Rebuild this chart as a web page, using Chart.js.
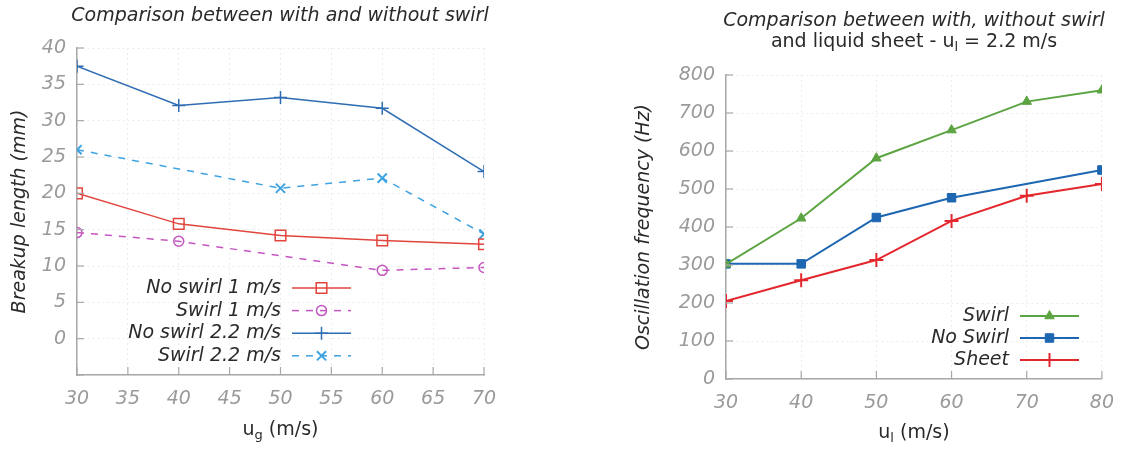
<!DOCTYPE html>
<html>
<head>
<meta charset="utf-8">
<script src="https://cdn.jsdelivr.net/npm/chart.js@4/dist/chart.umd.min.js"></script>
<style>
  html, body { margin: 0; padding: 0; background: #fff; }
  #wrap { position: relative; width: 1127px; height: 450px; }
  #leftBox { position: absolute; left: 0; top: 0; width: 560px; height: 450px; }
  #rightBox { position: absolute; left: 560px; top: 0; width: 567px; height: 450px; }
</style>
</head>
<body>
<div id="wrap">
  <div id="leftBox"><canvas id="leftChart" width="560" height="450"></canvas></div>
  <div id="rightBox"><canvas id="rightChart" width="567" height="450"></canvas></div>
</div>
<script>
// --- Data: left chart (breakup length) ---
const gasSpeeds = [30, 40, 50, 60, 70];
const noSwirl1 = [20.0, 15.8, 14.2, 13.5, 13.0];
const swirl1 = [14.6, 13.4, null, 9.4, 9.8];
const noSwirl22 = [37.5, 32.1, 33.2, 31.7, 23.0];
const swirl22 = [26.0, null, 20.7, 22.1, 14.4];

// --- Data: right chart (oscillation frequency) ---
const liquidSpeeds = [30, 40, 50, 60, 70, 80];
const swirlFreq = [302, 423, 581, 655, 730, 760];
const noSwirlFreq = [303, 303, 425, 477, null, 550];
const sheetFreq = [205, 260, 313, 416, 482, 513];

const FONT = '"DejaVu Sans", sans-serif';
const FS = 19; // font size used for nearly all text
const tickGray = '#9a9a9a';
const axisGray = '#a8a8a8';
const textDark = '#2a2a2a';

function toPoints(xs, ys) {
    return xs.map((x, i) => ({ x: x, y: ys[i] }));
}

// draw base + subscript + rest, centred at cx
function drawSubText(ctx, base, sub, rest, cx, cy, size, italic) {
    const st = italic ? 'italic ' : '';
    ctx.save();
    ctx.fillStyle = textDark;
    ctx.textBaseline = 'middle';
    ctx.font = st + size + 'px ' + FONT;
    const wBase = ctx.measureText(base).width;
    const wRest = ctx.measureText(rest).width;
    ctx.font = st + Math.round(size * 0.7) + 'px ' + FONT;
    const wSub = ctx.measureText(sub).width;
    let x = cx - (wBase + wSub + wRest) / 2;
    ctx.textAlign = 'left';
    ctx.font = st + size + 'px ' + FONT;
    ctx.fillText(base, x, cy);
    x += wBase;
    ctx.font = st + Math.round(size * 0.7) + 'px ' + FONT;
    ctx.fillText(sub, x, cy + size * 0.3);
    x += wSub;
    ctx.font = st + size + 'px ' + FONT;
    ctx.fillText(rest, x, cy);
    ctx.restore();
}

// plugin: inward tick marks, titles, custom legend
const decorPlugin = {
    id: 'decor',
    afterDraw(chart, args, opts) {
        const ctx = chart.ctx;
        const area = chart.chartArea;
        const xs = chart.scales.x;
        const ys = chart.scales.y;

        // inward ticks
        ctx.save();
        ctx.strokeStyle = axisGray;
        ctx.lineWidth = 1.2;
        ys.ticks.forEach((t, i) => {
            const py = ys.getPixelForTick(i);
            ctx.beginPath();
            ctx.moveTo(area.left, py);
            ctx.lineTo(area.left + 7, py);
            ctx.stroke();
        });
        xs.ticks.forEach((t, i) => {
            const px = xs.getPixelForTick(i);
            ctx.beginPath();
            ctx.moveTo(px, area.bottom);
            ctx.lineTo(px, area.bottom - 8);
            ctx.stroke();
        });
        ctx.restore();

        // titles
        ctx.save();
        ctx.fillStyle = textDark;
        ctx.textAlign = 'center';
        ctx.textBaseline = 'middle';
        opts.titleLines.forEach(line => {
            ctx.font = (line.italic ? 'italic ' : '') + FS + 'px ' + FONT;
            if (line.sub) {
                drawSubText(ctx, line.text, line.sub, line.rest, line.x, line.y, FS, line.italic);
            } else {
                ctx.fillText(line.text, line.x, line.y);
            }
        });

        // y axis title
        ctx.save();
        ctx.translate(opts.yTitleX, (area.top + area.bottom) / 2);
        ctx.rotate(-Math.PI / 2);
        ctx.font = 'italic ' + FS + 'px ' + FONT;
        ctx.fillText(opts.yTitle, 0, 0);
        ctx.restore();

        // x axis title
        drawSubText(ctx, 'u', opts.xSub, ' (m/s)', (area.left + area.right) / 2, opts.xTitleY, FS, false);
        ctx.restore();

        // legend
        const lg = opts.legend;
        chart.data.datasets.forEach((ds, i) => {
            const y = lg.top + i * lg.rowH;
            ctx.save();
            ctx.fillStyle = textDark;
            ctx.font = 'italic ' + FS + 'px ' + FONT;
            ctx.textAlign = 'right';
            ctx.textBaseline = 'middle';
            ctx.fillText(ds.label, lg.textRight, y);
            ctx.strokeStyle = ds.borderColor;
            ctx.lineWidth = ds.borderWidth;
            ctx.setLineDash(ds.borderDash || []);
            ctx.beginPath();
            ctx.moveTo(lg.lineLeft, y);
            ctx.lineTo(lg.lineLeft + lg.lineW, y);
            ctx.stroke();
            ctx.setLineDash([]);
            ctx.lineWidth = ds.pointBorderWidth || 1.5;
            ctx.fillStyle = ds.pointBackgroundColor;
            Chart.helpers.drawPoint(ctx, {
                pointStyle: ds.pointStyle,
                radius: ds.pointRadius,
                rotation: 0,
                borderWidth: ds.pointBorderWidth || 1.5
            }, lg.lineLeft + lg.lineW / 2, y);
            ctx.restore();
        });
    }
};

function axisOpts(min, max, step, hideBelow) {
    return {
        type: 'linear',
        min: min,
        max: max,
        ticks: {
            stepSize: step,
            color: tickGray,
            font: { family: FONT, size: FS, style: 'italic' },
            padding: 11,
            callback: function(v) { return (hideBelow !== undefined && v < hideBelow) ? '' : v; }
        },
        grid: { color: '#ececec', lineWidth: 1, drawTicks: false },
        border: { display: true, color: axisGray, width: 1.5, dash: [2, 3] }
    };
}

// --- Left chart ---
const leftX = axisOpts(30, 70, 5);
leftX.afterFit = s => { s.height = 75; };
leftX.ticks.padding = 13;
const leftY = axisOpts(-5, 40, 5, 0);
leftY.afterFit = s => { s.width = 77; };

new Chart(document.getElementById('leftChart').getContext('2d'), {
    type: 'line',
    data: {
        datasets: [
            {
                label: 'No swirl 1 m/s',
                data: toPoints(gasSpeeds, noSwirl1),
                borderColor: '#e2453d', borderWidth: 1.5,
                pointStyle: 'rect', pointRadius: 7.5, pointBorderWidth: 1.5,
                pointBackgroundColor: 'rgba(0,0,0,0)', pointBorderColor: '#e2453d'
            },
            {
                label: 'Swirl 1 m/s',
                data: toPoints(gasSpeeds, swirl1),
                borderColor: '#c455c0', borderWidth: 1.5, borderDash: [7, 7],
                pointStyle: 'circle', pointRadius: 5, pointBorderWidth: 1.5,
                pointBackgroundColor: 'rgba(0,0,0,0)', pointBorderColor: '#c455c0'
            },
            {
                label: 'No swirl 2.2 m/s',
                data: toPoints(gasSpeeds, noSwirl22),
                borderColor: '#2f6db3', borderWidth: 1.5,
                pointStyle: 'cross', pointRadius: 6.5, pointBorderWidth: 1.5,
                pointBackgroundColor: 'rgba(0,0,0,0)', pointBorderColor: '#2f6db3'
            },
            {
                label: 'Swirl 2.2 m/s',
                data: toPoints(gasSpeeds, swirl22),
                borderColor: '#3ea3e0', borderWidth: 1.5, borderDash: [7, 7],
                pointStyle: 'crossRot', pointRadius: 6.5, pointBorderWidth: 2,
                pointBackgroundColor: 'rgba(0,0,0,0)', pointBorderColor: '#3ea3e0'
            }
        ]
    },
    options: {
        responsive: false,
        animation: false,
        spanGaps: true,
        layout: { autoPadding: false, padding: { left: 0, top: 48, right: 76, bottom: 0 } },
        scales: { x: leftX, y: leftY },
        plugins: {
            legend: { display: false },
            tooltip: { enabled: false },
            decor: {
                titleLines: [{ text: 'Comparison between with and without swirl', italic: true, x: 280, y: 16 }],
                yTitle: 'Breakup length (mm)',
                yTitleX: 20,
                xSub: 'g',
                xTitleY: 430,
                legend: { top: 288, rowH: 22.6, textRight: 281, lineLeft: 292, lineW: 59 }
            }
        }
    },
    plugins: [decorPlugin]
});

// --- Right chart ---
const rightX = axisOpts(30, 80, 10);
rightX.afterFit = s => { s.height = 71; };
rightX.ticks.padding = 13;
const rightY = axisOpts(0, 800, 100);
rightY.afterFit = s => { s.width = 166; };

new Chart(document.getElementById('rightChart').getContext('2d'), {
    type: 'line',
    data: {
        datasets: [
            {
                label: 'Swirl',
                data: toPoints(liquidSpeeds, swirlFreq),
                borderColor: '#5ca442', borderWidth: 2,
                pointStyle: 'triangle', pointRadius: 5.5, pointBorderWidth: 1,
                pointBackgroundColor: '#5ca442', pointBorderColor: '#5ca442'
            },
            {
                label: 'No Swirl',
                data: toPoints(liquidSpeeds, noSwirlFreq),
                borderColor: '#1d66b1', borderWidth: 2,
                pointStyle: 'rect', pointRadius: 6, pointBorderWidth: 1,
                pointBackgroundColor: '#1d66b1', pointBorderColor: '#1d66b1'
            },
            {
                label: 'Sheet',
                data: toPoints(liquidSpeeds, sheetFreq),
                borderColor: '#e3272d', borderWidth: 2,
                pointStyle: 'cross', pointRadius: 7, pointBorderWidth: 2,
                pointBackgroundColor: '#e3272d', pointBorderColor: '#e3272d'
            }
        ]
    },
    options: {
        responsive: false,
        animation: false,
        spanGaps: true,
        layout: { autoPadding: false, padding: { left: 0, top: 75, right: 25, bottom: 0 } },
        scales: { x: rightX, y: rightY },
        plugins: {
            legend: { display: false },
            tooltip: { enabled: false },
            decor: {
                titleLines: [
                    { text: 'Comparison between with, without swirl', italic: true, x: 354, y: 21 },
                    { text: 'and liquid sheet - u', sub: 'l', rest: ' = 2.2 m/s', italic: false, x: 354, y: 42 }
                ],
                yTitle: 'Oscillation frequency (Hz)',
                yTitleX: 84,
                xSub: 'l',
                xTitleY: 433,
                legend: { top: 316, rowH: 22, textRight: 449, lineLeft: 460, lineW: 59 }
            }
        }
    },
    plugins: [decorPlugin]
});
</script>
</body>
</html>
